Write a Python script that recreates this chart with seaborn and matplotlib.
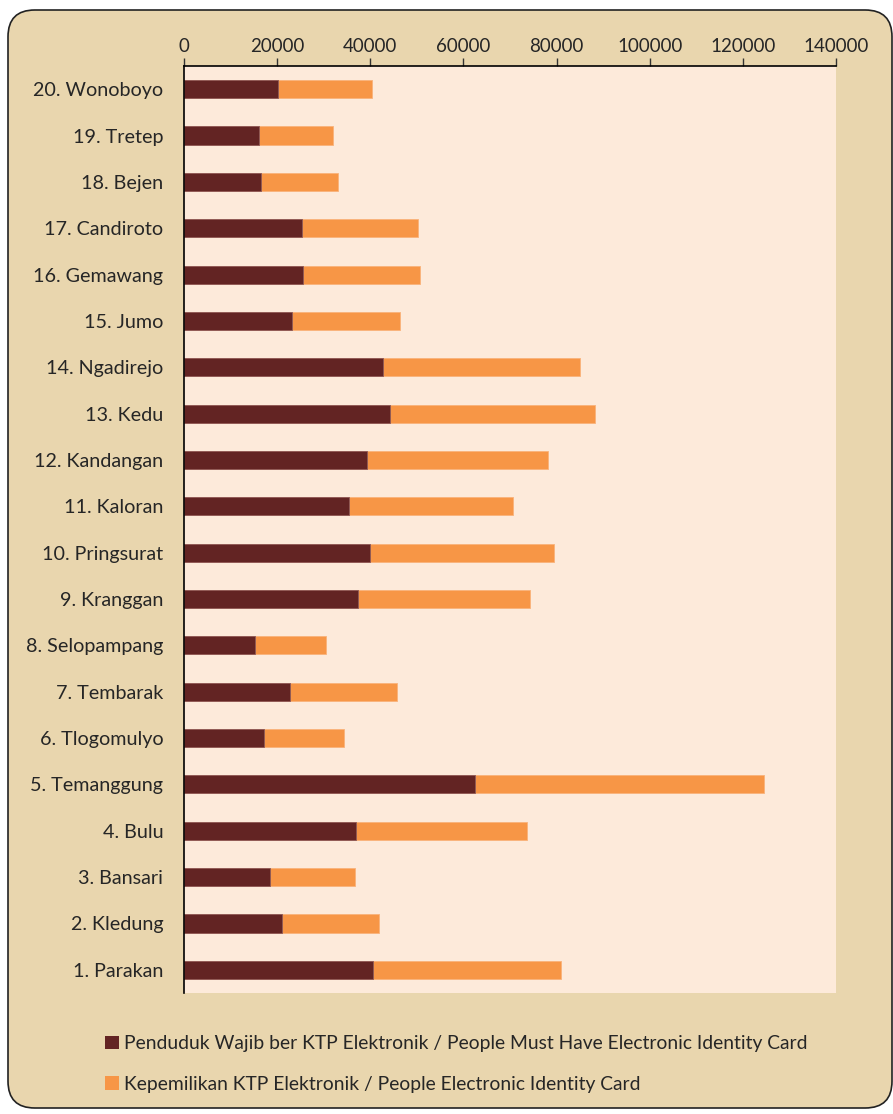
import matplotlib
matplotlib.use('Agg')
import matplotlib.pyplot as plt
import seaborn as sns
import pandas as pd
from matplotlib.patches import FancyBboxPatch, Patch

# Data
kecamatan = ['20. Wonoboyo', '19. Tretep', '18. Bejen', '17. Candiroto', '16. Gemawang',
             '15. Jumo', '14. Ngadirejo', '13. Kedu', '12. Kandangan', '11. Kaloran',
             '10. Pringsurat', '9. Kranggan', '8. Selopampang', '7. Tembarak', '6. Tlogomulyo',
             '5. Temanggung', '4. Bulu', '3. Bansari', '2. Kledung', '1. Parakan']
wajib_ktp = [20200, 16100, 16500, 25300, 25600, 23200, 42700, 44200, 39300, 35400,
             39900, 37400, 15200, 22800, 17200, 62400, 36900, 18500, 21000, 40600]
punya_ktp = [20200, 15900, 16600, 24900, 25100, 23200, 42300, 44100, 38900, 35200,
             39500, 36900, 15300, 22900, 17200, 62200, 36800, 18200, 20900, 40400]
label_wajib = 'Penduduk Wajib ber KTP Elektronik / People Must Have Electronic Identity Card'
label_punya = 'Kepemilikan KTP Elektronik / People Electronic Identity Card'
xticks = [0, 20000, 40000, 60000, 80000, 100000, 120000, 140000]

df = pd.DataFrame({'kec': kecamatan, 'wajib': wajib_ktp, 'punya': punya_ktp})
df['total'] = df['wajib'] + df['punya']

dark = '#632423'
orange = '#F79646'

sns.set_style('white')
plt.rcParams['font.family'] = ['Lato', 'DejaVu Sans']

fig = plt.figure(figsize=(8.93, 11.14), dpi=100)
fig.patch.set_facecolor('white')

# rounded parchment panel behind everything
panel = FancyBboxPatch((8 / 893, 6 / 1114), 884 / 893, 1098 / 1114,
                       boxstyle='round,pad=0,rounding_size=0.03',
                       transform=fig.transFigure, facecolor='#E9D6AE',
                       edgecolor='#222222', linewidth=1.2, zorder=-5,
                       mutation_aspect=893 / 1114)
fig.patches.append(panel)

ax = fig.add_axes([184 / 893, 1 - 993 / 1114, (836 - 184) / 893, (993 - 66) / 1114])
ax.set_facecolor('#FDEADA')

sns.barplot(data=df, x='total', y='kec', color=orange, width=0.39, saturation=1,
            edgecolor='#F9B27A', linewidth=0.6, ax=ax)
sns.barplot(data=df, x='wajib', y='kec', color=dark, width=0.39, saturation=1,
            edgecolor='#8E5A59', linewidth=0.6, ax=ax)

ax.set_xlim(0, 140000)
ax.set_ylim(19.5, -0.5)
ax.set_xticks(xticks)
ax.set_xticklabels([str(v) for v in xticks])
ax.xaxis.tick_top()
ax.set_xlabel('')
ax.set_ylabel('')
ax.tick_params(axis='x', direction='out', length=6, width=1, color='#333333',
               labelsize=13.5, pad=2)
ax.tick_params(axis='y', direction='in', length=4, width=1, color='black',
               labelsize=14.2, pad=15)
for s in ['right', 'bottom']:
    ax.spines[s].set_visible(False)
for s in ['left', 'top']:
    ax.spines[s].set_color('black')
    ax.spines[s].set_linewidth(1.2)

handles = [Patch(facecolor=dark, edgecolor='none', label=label_wajib),
           Patch(facecolor=orange, edgecolor='none', label=label_punya)]
fig.legend(handles=handles, loc='upper left', bbox_to_anchor=(88 / 893, 1 - 1018 / 1114),
           frameon=False, fontsize=13.9, handlelength=0.7, handleheight=0.7,
           handletextpad=0.25, labelspacing=1.2)

fig.savefig('out.png', dpi=100, facecolor=fig.get_facecolor())
